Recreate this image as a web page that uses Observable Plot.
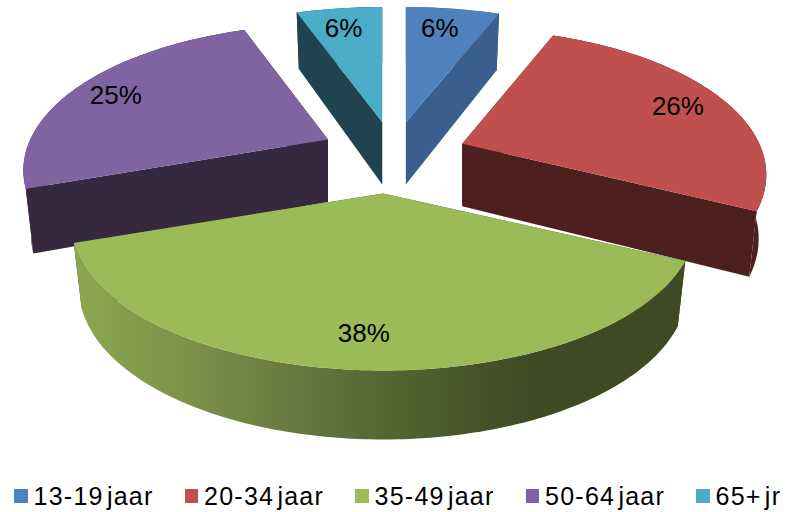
<!DOCTYPE html>
<html>
<head>
<meta charset="utf-8">
<script src="https://cdn.jsdelivr.net/npm/d3@7"></script>
<script src="https://cdn.jsdelivr.net/npm/@observablehq/plot@0.6"></script>
<style>
html,body{margin:0;padding:0;background:#fff;overflow:hidden}
#legend{display:flex;height:32px;padding-left:14px;font-family:"Liberation Sans",Arial,sans-serif;font-size:25px;color:#000;line-height:32px}
#legend div{width:170.5px;flex:none;display:flex;align-items:center;white-space:nowrap}
#legend i{display:block;width:13.5px;height:13.5px;margin-right:6px}
#legend span{letter-spacing:1.25px;word-spacing:-5px}
svg{display:block}
</style>
</head>
<body>
<div id="chart"></div>
<div id="legend"></div>
<script>
const categories = ["13-19 jaar", "20-34 jaar", "35-49 jaar", "50-64 jaar", "65+ jr"];
const values = [6, 26.4, 37.6, 25, 5.5];
const labels = ["6%", "26%", "38%", "25%", "6%"];
const topColors = ["#4f81bd", "#c0504d", "#9bbb59", "#8064a2", "#4bacc6"];
const sideColors = ["#3a5f8e", "#4d1f1e", "url(#greenSide)", "#35283f", "#1f444f"];
const cutColors = ["#3a5f8e", "#4d1f1e", "#3f4a23", "#35283f", "#1f444f"];
const greenSideStops = ["#8ba64f", "#7b9148", "#647640", "#4f5f2d", "#3f4a23"];
const drawOrder = [4, 0, 3, 1, 2];

// view of the tilted disc
const W = 787, H = 480;
const cx = 392, cy = 158, explode = 0.24;
const Rx = 296, Ry = 139.4, persp = -0.2125, Ay = 146, axisGrow = 0.03;
const labelR = 0.8;
const tipShiftX = [0, 3, -5, 0, 2], tipShiftY = [-2, -2, 0, -4, -2];
const labelShiftX = [-5, 7, -2, -12, -3], labelShiftY = [0, 1, 6, 1, 1];
const total = d3.sum(values);
const angles = d3.cumsum(values).map(v => v / total * 2 * Math.PI);
const slices = values.map((v, i) => {
  const a0 = i ? angles[i - 1] : 0, a1 = angles[i], m = (a0 + a1) / 2;
  return {i, a0, a1, m,
    sx: 1 + axisGrow * Math.cos(m) ** 2,
    tx: cx + explode * 298 * Math.sin(m) + tipShiftX[i],
    ty: cy - explode * Ay * Math.cos(m) + tipShiftY[i]};
});
function local(s, a, r) {
  const v = -r * Math.cos(a), w = 1 + persp * v;
  return [s.sx * Rx * r * Math.sin(a) / w, Ry * v / w];
}
function topPt(s, a, r = 1) {
  const [x, y] = local(s, a, r);
  return [s.tx + x, s.ty + y];
}
function botPt(s, a, r = 1) {
  const [x, y] = local(s, a, r);
  return [s.tx + x * 0.975, s.ty + y + 62.5 + 6.5 * (-r * Math.cos(a))];
}
const faces = [];
function addFace(id, color, pts) {
  for (const [x, y] of pts) faces.push({id, color, x, y});
}
const step = Math.PI / 180;
for (const i of drawOrder) {
  const s = slices[i];
  const n = Math.ceil((s.a1 - s.a0) / step);
  const at = k => s.a0 + (s.a1 - s.a0) * k / n;
  const ks = d3.range(n + 1);
  // the two cut walls
  const tip = [s.tx, s.ty], tipB = botPt(s, 0, 0);
  addFace(`c0-${i}`, cutColors[i], [tip, topPt(s, s.a0), botPt(s, s.a0), tipB]);
  addFace(`c1-${i}`, cutColors[i], [tip, topPt(s, s.a1), botPt(s, s.a1), tipB]);
  // outer wall
  addFace(`w${i}`, sideColors[i], [...ks.map(k => topPt(s, at(k))), ...ks.slice().reverse().map(k => botPt(s, at(k)))]);
  // top surface
  addFace(`t${i}`, topColors[i], [tip, ...ks.map(k => topPt(s, at(k)))]);
}
const labelRows = slices.map(s => {
  const [x, y] = topPt(s, s.m, labelR);
  return {x: x + labelShiftX[s.i], y: y + labelShiftY[s.i], text: labels[s.i]};
});
const gradient = () => {
  const defs = d3.create("svg:defs");
  const g = defs.append("linearGradient").attr("id", "greenSide").attr("gradientUnits", "userSpaceOnUse")
    .attr("x1", 80).attr("x2", 530).attr("y1", 0).attr("y2", 0);
  greenSideStops.forEach((c, k) => g.append("stop").attr("offset", k / (greenSideStops.length - 1)).attr("stop-color", c));
  return defs.node();
};

const plot = Plot.plot({
  width: W, height: H,
  margin: 0,
  x: {domain: [0, W], range: [0, W], axis: null},
  y: {domain: [0, H], range: [0, H], axis: null},
  color: {type: "identity"},
  style: {background: "#fff"},
  marks: [
    gradient,
    Plot.line(faces, {x: "x", y: "y", z: "id", fill: "color", strokeWidth: 0, stroke: "none", curve: "linear-closed"}),
    Plot.text(labelRows, {x: "x", y: "y", text: "text", fontSize: 26, fontFamily: "Liberation Sans, Arial, sans-serif", fill: "#000", textAnchor: "middle", lineAnchor: "middle"})
  ]
});
document.getElementById("chart").append(plot);
const legend = d3.select("#legend");
categories.forEach((c, i) => {
  const item = legend.append("div");
  item.append("i").style("background", topColors[i]);
  item.append("span").text(c);
});
</script>
</body>
</html>
